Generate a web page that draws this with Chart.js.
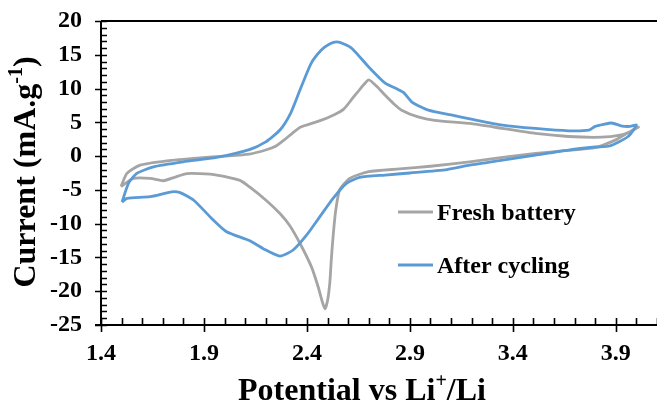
<!DOCTYPE html>
<html>
<head>
<meta charset="utf-8">
<script src="https://cdn.jsdelivr.net/npm/chart.js@4.4.1/dist/chart.umd.min.js"></script>
<style>
  html, body { margin: 0; padding: 0; background: #fff; }
  canvas { display: block; }
</style>
</head>
<body>
<canvas id="cvChart" width="657" height="403"></canvas>
<script>
// Series names
const seriesNames = ['Fresh battery', 'After cycling'];

// Fresh battery loop: anodic sweep (left -> right) then cathodic sweep back
const potentialFresh = [
  1.497, 1.526, 1.59, 1.72, 1.88, 2.00, 2.12, 2.20, 2.25, 2.29, 2.33, 2.37, 2.45, 2.53, 2.58,
  2.62, 2.66, 2.70, 2.74, 2.78, 2.82, 2.86, 2.94, 3.02, 3.20, 3.35, 3.51, 3.67, 3.83, 3.92, 3.97, 4.01,
  3.95, 3.90, 3.80, 3.65, 3.51, 3.35, 3.19, 3.00, 2.85, 2.70, 2.608, 2.559, 2.54, 2.527, 2.518, 2.511,
  2.50, 2.487, 2.475, 2.454, 2.422, 2.366, 2.317, 2.269, 2.204, 2.123, 2.075, 1.962, 1.88, 1.817,
  1.76, 1.703, 1.639, 1.558, 1.497
];
const currentFresh = [
  -4.5, -2.56, -1.33, -0.69, -0.25, 0.0, 0.3, 0.9, 1.5, 2.4, 3.4, 4.3, 5.1, 6.1, 7.0,
  8.5, 10.0, 11.3, 10.3, 9.0, 7.8, 6.8, 5.8, 5.3, 4.8, 4.1, 3.35, 2.9, 2.8, 3.1, 3.6, 4.3,
  3.3, 2.4, 1.25, 0.8, 0.4, -0.2, -0.85, -1.5, -1.9, -2.3, -3.3, -5.0, -8.0, -11.9, -15.5, -18.8,
  -21.4, -22.6, -21.6, -19.3, -16.4, -12.9, -10.3, -8.5, -6.6, -4.6, -3.6, -2.8, -2.6, -2.6,
  -3.1, -3.65, -3.3, -3.3, -4.5
];

// After cycling loop
const potentialCycled = [
  1.502, 1.534, 1.574, 1.655, 1.80, 1.962, 2.12, 2.20, 2.27, 2.32, 2.36, 2.42, 2.47, 2.51, 2.545,
  2.58, 2.62, 2.70, 2.78, 2.84, 2.87, 2.91, 2.99, 3.10, 3.21, 3.35, 3.51, 3.67, 3.77, 3.80, 3.84,
  3.88, 3.93, 3.97, 4.00,
  3.96, 3.87, 3.80, 3.67, 3.51, 3.35, 3.19, 3.08, 2.90, 2.78, 2.656, 2.592, 2.527, 2.462, 2.398,
  2.333, 2.269, 2.188, 2.12, 2.01, 1.94, 1.849, 1.784, 1.744, 1.639, 1.526, 1.502
];
const currentCycled = [
  -6.8, -4.0, -2.56, -1.58, -0.84, -0.2, 0.95, 2.1, 3.9, 6.3, 9.3, 13.7, 15.7, 16.6, 16.9,
  16.6, 15.9, 13.2, 10.8, 9.9, 9.4, 8.0, 6.8, 6.1, 5.4, 4.6, 4.1, 3.75, 3.85, 4.4, 4.7,
  4.9, 4.45, 4.4, 4.6,
  2.9, 1.5, 1.35, 0.9, 0.15, -0.6, -1.35, -2.0, -2.5, -2.8, -3.15, -4.04, -6.26, -9.0, -11.7,
  -13.9, -14.8, -13.7, -12.5, -11.2, -9.3, -6.5, -5.4, -5.28, -6.0, -6.26, -6.8
];

// Axis tick labels
const xTickValues = [1.4, 1.9, 2.4, 2.9, 3.4, 3.9];
const yTickValues = [-25, -20, -15, -10, -5, 0, 5, 10, 15, 20];

const FONT = '"Liberation Serif", "Times New Roman", serif';

function toPoints(xs, ys) {
  return xs.map((v, i) => ({ x: v, y: ys[i] }));
}

// draw text pieces, some raised as superscript
function drawRich(ctx, parts, x, y, size) {
  let total = 0;
  parts.forEach(p => {
    ctx.font = 'bold ' + (p.sup ? Math.round(size * 0.62) : size) + 'px ' + FONT;
    p.w = ctx.measureText(p.t).width;
    total += p.w;
  });
  let cx = x - total / 2;
  parts.forEach(p => {
    ctx.font = 'bold ' + (p.sup ? Math.round(size * 0.62) : size) + 'px ' + FONT;
    ctx.fillText(p.t, cx, p.sup ? y - size * 0.4 : y);
    cx += p.w;
  });
}

const axesDecor = {
  id: 'axesDecor',
  afterDraw(chart) {
    const { ctx, chartArea: a, scales: { x, y } } = chart;
    ctx.save();
    ctx.strokeStyle = '#000';
    ctx.lineWidth = 2;
    ctx.beginPath();
    ctx.moveTo(a.left, a.top); ctx.lineTo(a.right, a.top);
    ctx.moveTo(a.left, a.top); ctx.lineTo(a.left, a.bottom);
    ctx.moveTo(a.left - 6, a.bottom); ctx.lineTo(a.right, a.bottom);
    ctx.stroke();

    // tick marks: majors cross the axis, minors point inside
    ctx.lineWidth = 1.6;
    ctx.beginPath();
    for (let v = -25; v <= 20; v++) {
      const py = Math.round(y.getPixelForValue(v)) + 0.5;
      ctx.moveTo(v % 5 === 0 ? a.left - 6 : a.left, py);
      ctx.lineTo(a.left + 6, py);
    }
    for (let i = 0; 1.4 + i * 0.1 <= 4.1001; i++) {
      const px = Math.round(x.getPixelForValue(1.4 + i * 0.1)) + 0.5;
      ctx.moveTo(px, a.bottom - 7);
      ctx.lineTo(px, i % 5 === 0 ? a.bottom + 7 : a.bottom);
    }
    ctx.stroke();

    // axis titles
    ctx.fillStyle = '#000';
    ctx.textBaseline = 'alphabetic';
    ctx.textAlign = 'left';
    drawRich(ctx, [{ t: 'Potential vs Li' }, { t: '+', sup: true }, { t: '/Li' }], 362, 400, 32);
    ctx.save();
    ctx.translate(35, 172);
    ctx.rotate(-Math.PI / 2);
    drawRich(ctx, [{ t: 'Current (mA.g' }, { t: '-1', sup: true }, { t: ')' }], 0, 0, 32);
    ctx.restore();

    // legend inside the plot
    chart.data.datasets.forEach((ds, i) => {
      const ly = 212 + i * 53;
      ctx.strokeStyle = ds.borderColor;
      ctx.lineWidth = 2.8;
      ctx.beginPath();
      ctx.moveTo(398, ly); ctx.lineTo(433, ly);
      ctx.stroke();
      ctx.fillStyle = '#000';
      ctx.font = 'bold 24px ' + FONT;
      ctx.fillText(ds.label, 437, ly + 8);
    });
    ctx.restore();
  }
};

const ctx = document.getElementById('cvChart').getContext('2d');
const cvChart = new Chart(ctx, {
  type: 'scatter',
  data: {
    datasets: [
      {
        label: seriesNames[0],
        data: toPoints(potentialFresh, currentFresh),
        borderColor: '#A5A5A5',
        order: 1
      },
      {
        label: seriesNames[1],
        data: toPoints(potentialCycled, currentCycled),
        borderColor: '#5B9BD5',
        order: 0
      }
    ]
  },
  options: {
    responsive: false,
    animation: false,
    showLine: true,
    elements: {
      point: { radius: 0 },
      line: { borderWidth: 2.8, tension: 0.2, fill: false }
    },
    layout: { padding: { top: 21, right: 0, bottom: 0, left: 0 } },
    plugins: {
      legend: { display: false },
      tooltip: { enabled: false }
    },
    scales: {
      x: {
        type: 'linear',
        min: 1.4,
        max: 4.1,
        afterBuildTicks: s => { s.ticks = xTickValues.map(v => ({ value: v })); },
        afterFit: s => { s.height = 78; s.paddingLeft = 0; s.paddingRight = 0; },
        grid: { display: false, drawTicks: false },
        border: { display: false },
        ticks: {
          padding: 14,
          color: '#000',
          font: { family: FONT, size: 24, weight: 'bold' },
          callback: v => v.toFixed(1)
        }
      },
      y: {
        type: 'linear',
        min: -25,
        max: 20,
        afterBuildTicks: s => { s.ticks = yTickValues.map(v => ({ value: v })); },
        afterFit: s => { s.width = 101; s.paddingTop = 0; s.paddingBottom = 0; },
        grid: { display: false, drawTicks: false },
        border: { display: false },
        ticks: {
          padding: 19,
          color: '#000',
          font: { family: FONT, size: 24, weight: 'bold' }
        }
      }
    }
  },
  plugins: [axesDecor]
});
</script>
</body>
</html>
